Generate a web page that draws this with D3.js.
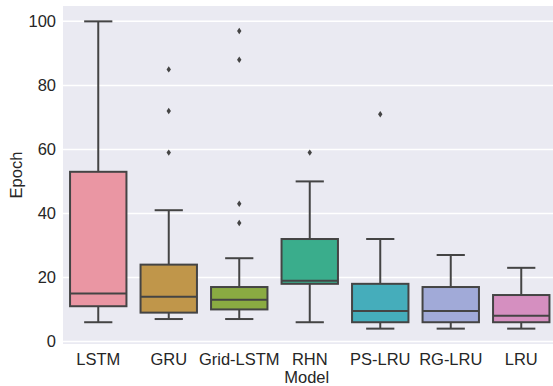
<!DOCTYPE html>
<html>
<head>
<meta charset="utf-8">
<script src="https://cdn.jsdelivr.net/npm/d3@7"></script>
<style>
  body { margin: 0; background: #fff; }
  text { font-family: "Liberation Sans", Arial, sans-serif; fill: #262626; }
</style>
</head>
<body>
<svg id="chart"></svg>
<script>
// box stats
const models = ['LSTM', 'GRU', 'Grid-LSTM', 'RHN', 'PS-LRU', 'RG-LRU', 'LRU'];
const whiskerLow = [6, 7, 7, 6, 4, 4, 4];
const q1 = [11, 9, 10, 18, 6, 6, 6];
const medians = [15, 14, 13, 19, 9.5, 9.5, 8];
const q3 = [53, 24, 17, 32, 18, 17, 14.5];
const whiskerHigh = [100, 41, 26, 50, 32, 27, 23];
const outliers = [[], [59, 72, 85], [37, 43, 88, 97], [59], [71], [], []];
const colors = ['#ea96a3', '#c0964a', '#8aab42', '#3aad8c', '#45adbb', '#a1aad8', '#d58fc0'];
const yTicks = [0, 20, 40, 60, 80, 100];

const width = 553;
const height = 386;
const margin = { top: 6, left: 63, bottom: 42 };
const bandW = 70.5;

const svg = d3.select('#chart')
  .attr('width', width)
  .attr('height', height);

const xScale = d3.scaleBand()
  .domain(models)
  .range([margin.left, margin.left + bandW * models.length])
  .paddingInner(0)
  .paddingOuter(0);

const yScale = d3.scaleLinear()
  .domain([-0.8, 104.8])
  .range([height - margin.bottom, margin.top]);

// background
svg.append('rect')
  .attr('x', margin.left)
  .attr('y', margin.top)
  .attr('width', xScale.range()[1] - margin.left)
  .attr('height', yScale.range()[0] - margin.top)
  .attr('fill', '#eaeaf2');

// horizontal grid
svg.append('g')
  .selectAll('line')
  .data(yTicks)
  .join('line')
  .attr('x1', margin.left)
  .attr('x2', xScale.range()[1])
  .attr('y1', d => yScale(d))
  .attr('y2', d => yScale(d))
  .attr('stroke', '#fff')
  .attr('stroke-width', 1.5);

// y axis
const yAxis = svg.append('g')
  .attr('transform', `translate(${margin.left}, 0)`)
  .call(d3.axisLeft(yScale).tickValues(yTicks).tickSize(0).tickPadding(7));
yAxis.select('.domain').remove();
yAxis.selectAll('text').style('font-size', '16.5px').attr('fill', '#262626');

// x axis
const xAxis = svg.append('g')
  .attr('transform', `translate(0, ${yScale.range()[0]})`)
  .call(d3.axisBottom(xScale).tickSize(0).tickPadding(9));
xAxis.select('.domain').remove();
xAxis.selectAll('text').style('font-size', '16.5px').attr('fill', '#262626');

const lineColor = '#444';
const boxW = bandW * 0.8;
const capW = boxW / 2;

const boxes = svg.append('g')
  .selectAll('g')
  .data(models)
  .join('g');

boxes.each(function (m, i) {
  const g = d3.select(this);
  const cx = xScale(m) + xScale.bandwidth() / 2;
  // whiskers
  g.append('line')
    .attr('x1', cx).attr('x2', cx)
    .attr('y1', yScale(q3[i])).attr('y2', yScale(whiskerHigh[i]))
    .attr('stroke', lineColor).attr('stroke-width', 2);
  g.append('line')
    .attr('x1', cx).attr('x2', cx)
    .attr('y1', yScale(q1[i])).attr('y2', yScale(whiskerLow[i]))
    .attr('stroke', lineColor).attr('stroke-width', 2);
  // caps
  [whiskerHigh[i], whiskerLow[i]].forEach(v => {
    g.append('line')
      .attr('x1', cx - capW / 2).attr('x2', cx + capW / 2)
      .attr('y1', yScale(v)).attr('y2', yScale(v))
      .attr('stroke', lineColor).attr('stroke-width', 2);
  });
  // box
  g.append('rect')
    .attr('x', cx - boxW / 2)
    .attr('y', yScale(q3[i]))
    .attr('width', boxW)
    .attr('height', yScale(q1[i]) - yScale(q3[i]))
    .attr('fill', colors[i])
    .attr('stroke', lineColor)
    .attr('stroke-width', 2);
  // median
  g.append('line')
    .attr('x1', cx - boxW / 2).attr('x2', cx + boxW / 2)
    .attr('y1', yScale(medians[i])).attr('y2', yScale(medians[i]))
    .attr('stroke', lineColor).attr('stroke-width', 2);
  // fliers (thin diamonds)
  g.selectAll('path.flier')
    .data(outliers[i])
    .join('path')
    .attr('class', 'flier')
    .attr('d', d => {
      const y = yScale(d);
      return `M${cx},${y - 3.2}L${cx + 2.2},${y}L${cx},${y + 3.2}L${cx - 2.2},${y}Z`;
    })
    .attr('fill', lineColor);
});

// axis labels
svg.append('text')
  .attr('x', (margin.left + xScale.range()[1]) / 2 - 3)
  .attr('y', 383)
  .attr('text-anchor', 'middle')
  .style('font-size', '16.5px')
  .text('Model');

svg.append('text')
  .attr('transform', `translate(22, ${yScale(52)}) rotate(-90)`)
  .attr('text-anchor', 'middle')
  .style('font-size', '16.5px')
  .text('Epoch');
</script>
</body>
</html>
